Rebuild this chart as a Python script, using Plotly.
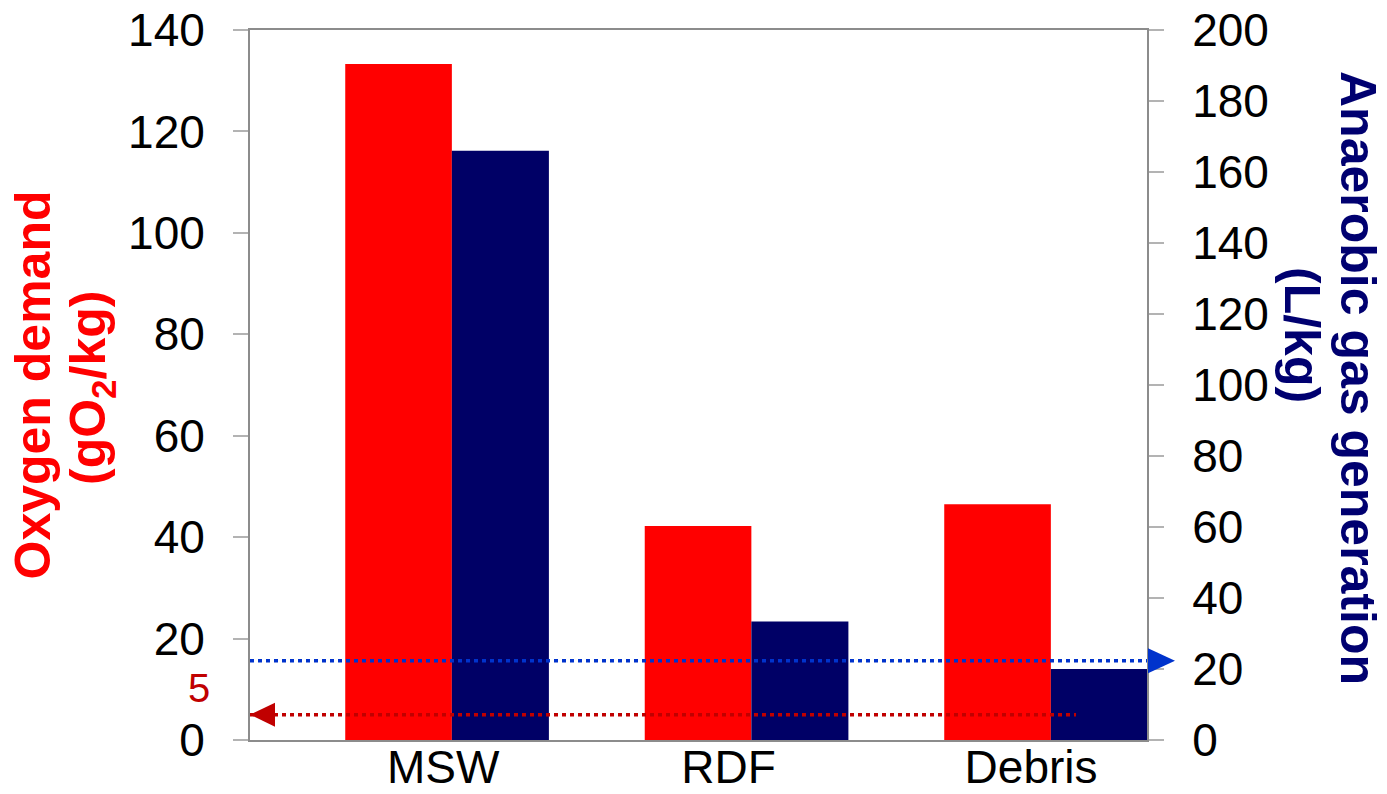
import plotly.graph_objects as go

# Waste streams and measured quantities
categories = ["MSW", "RDF", "Debris"]
oxygen_demand = [133.3, 42.2, 46.5]      # gO2/kg, left axis
gas_generation = [166.0, 33.4, 20.0]     # L/kg, right axis

# Reference levels marked by dotted arrows
oxygen_limit = 5          # gO2/kg, labelled "5"
gas_limit = 22.3          # L/kg

oxygen_ticks = [0, 20, 40, 60, 80, 100, 120, 140]
gas_ticks = [0, 20, 40, 60, 80, 100, 120, 140, 160, 180, 200]

W, H = 1387, 794
ML, MR, MT, MB = 250, 240, 30, 54
PW, PH = W - ML - MR, H - MT - MB

x_range = [-0.658, 2.337]
oxy_max = 140
gas_max = 200

FONT = "Liberation Sans, Arial, sans-serif"
RED = "#ff0000"
NAVY = "#000066"
RULE_RED = "#c00000"
RULE_BLUE = "#0033cc"
AXIS_GREY = "#8c8c8c"
TICK_GREY = "#b3b3b3"


def px_to_paper_x(px):
    return (px - ML) / PW


def px_to_paper_y(py):
    return (H - MB - py) / PH


idx = list(range(len(categories)))
label_nudge = [-0.013, -0.06, -0.05]

fig = go.Figure()
fig.add_bar(x=idx, y=oxygen_demand, offset=-0.34, width=0.356,
            marker=dict(color=RED, line=dict(width=0)), yaxis="y",
            name="Oxygen demand")
fig.add_bar(x=idx, y=gas_generation, offset=0.016, width=0.324,
            marker=dict(color=NAVY, line=dict(width=0)), yaxis="y2",
            name="Anaerobic gas generation")

dotted = "4px,4px"
shapes = [
    # blue guide toward the right axis
    dict(type="line", xref="x", yref="y2", x0=x_range[0], x1=x_range[1],
         y0=gas_limit, y1=gas_limit, layer="above",
         line=dict(color=RULE_BLUE, width=3.5, dash=dotted)),
    dict(type="path", xref="paper", yref="paper",
         xsizemode="pixel", ysizemode="pixel",
         xanchor=1.0, yanchor=gas_limit / gas_max,
         path="M1,-12.5 L28,0 L1,12.5 Z",
         fillcolor=RULE_BLUE, line=dict(width=0), layer="above"),
    # red guide toward the left axis
    dict(type="line", xref="x", yref="y", x0=x_range[0], x1=2.1,
         y0=oxygen_limit, y1=oxygen_limit, layer="above",
         line=dict(color=RULE_RED, width=3.5, dash=dotted)),
    dict(type="path", xref="paper", yref="paper",
         xsizemode="pixel", ysizemode="pixel",
         xanchor=0.0, yanchor=oxygen_limit / oxy_max,
         path="M0,0 L25,12 L25,-12 Z",
         fillcolor=RULE_RED, line=dict(width=0), layer="above"),
]

TITLE_SIZE = 50
annotations = [
    dict(text="5", xref="paper", yref="y", x=px_to_paper_x(199), y=oxygen_limit,
         yshift=27, showarrow=False, xanchor="center", yanchor="middle",
         font=dict(family=FONT, size=40, color=RULE_RED)),
    dict(text="<b>Oxygen demand</b>", xref="paper", yref="paper",
         x=px_to_paper_x(32.5), y=px_to_paper_y(385), textangle=-90,
         showarrow=False, xanchor="center", yanchor="middle",
         font=dict(family=FONT, size=TITLE_SIZE, color=RED)),
    dict(text="<b>(gO<sub>2</sub>/kg)</b>", xref="paper", yref="paper",
         x=px_to_paper_x(91), y=px_to_paper_y(388), textangle=-90,
         showarrow=False, xanchor="center", yanchor="middle",
         font=dict(family=FONT, size=TITLE_SIZE, color=RED)),
    dict(text="<b>Anaerobic gas generation</b>", xref="paper", yref="paper",
         x=px_to_paper_x(1358), y=px_to_paper_y(378), textangle=90,
         showarrow=False, xanchor="center", yanchor="middle",
         font=dict(family=FONT, size=TITLE_SIZE, color="#000070")),
    dict(text="<b>(L/kg)</b>", xref="paper", yref="paper",
         x=px_to_paper_x(1302), y=px_to_paper_y(335), textangle=90,
         showarrow=False, xanchor="center", yanchor="middle",
         font=dict(family=FONT, size=TITLE_SIZE, color="#000070")),
]

axis_common = dict(showgrid=False, zeroline=False, showline=True,
                   linecolor=AXIS_GREY, linewidth=2, automargin=False,
                   ticks="outside", ticklen=15, tickwidth=2, tickcolor=TICK_GREY,
                   tickfont=dict(family=FONT, size=46, color="black"))

fig.update_layout(
    width=W, height=H,
    margin=dict(l=ML, r=MR, t=MT, b=MB, pad=0, autoexpand=False),
    paper_bgcolor="white", plot_bgcolor="white",
    barmode="overlay", showlegend=False,
    shapes=shapes, annotations=annotations,
    xaxis=dict(range=x_range, tickvals=[i + d for i, d in zip(idx, label_nudge)],
               ticktext=categories, showgrid=False, zeroline=False,
               showline=True, mirror=True, linecolor=AXIS_GREY, linewidth=2,
               ticks="", ticklabelstandoff=-14, automargin=False,
               tickfont=dict(family=FONT, size=46, color="black")),
    yaxis=dict(range=[0, oxy_max], tickvals=oxygen_ticks, ticklabelstandoff=19,
               **axis_common),
    yaxis2=dict(range=[0, gas_max], tickvals=gas_ticks, overlaying="y",
                side="right", ticklabelstandoff=19, **axis_common),
)

fig.write_html("out.html")
